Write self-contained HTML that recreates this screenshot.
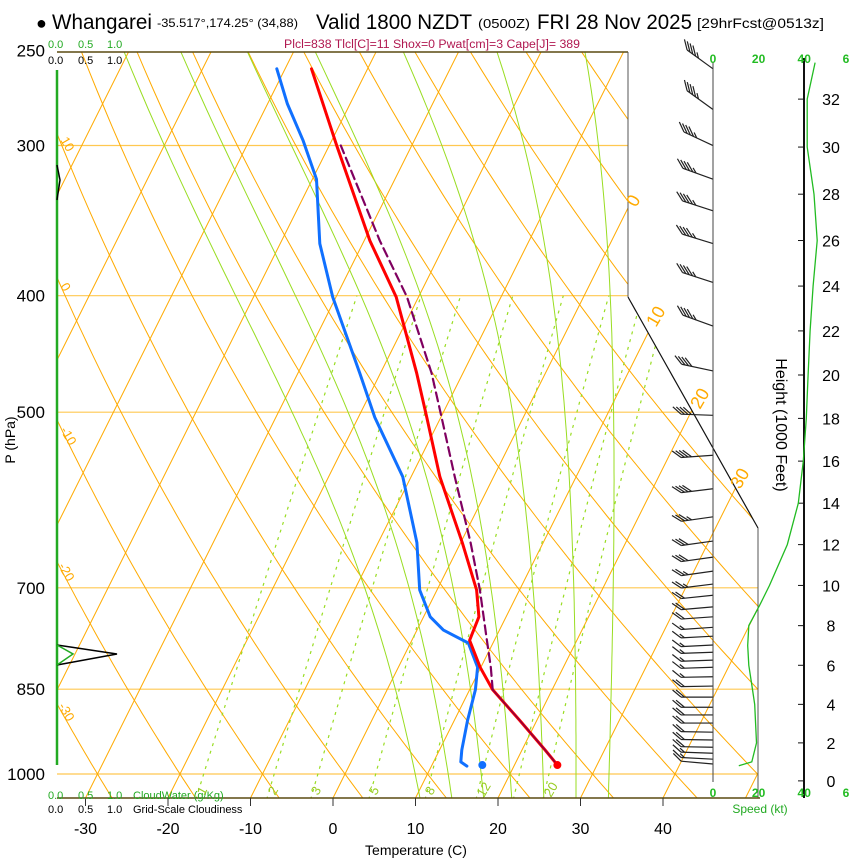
<!DOCTYPE html>
<html><head><meta charset="utf-8"><title>Skew-T Whangarei</title>
<style>
html,body{margin:0;padding:0;background:#fff;}
svg{display:block;font-family:"Liberation Sans",sans-serif;}
</style></head>
<body>
<svg id="chart" xmlns="http://www.w3.org/2000/svg" width="850" height="860" viewBox="0 0 850 860">
<defs>
<clipPath id="plotclip"><polygon points="57,52 628,52 628,297 758,528 758,798 57,798"/></clipPath>
</defs>
<rect x="0" y="0" width="850" height="860" fill="#fff"/>
<g id="grid" clip-path="url(#plotclip)"></g>
<g id="series"></g>
<g id="frame">
  <line x1="57" y1="52" x2="628" y2="52" stroke="#5a4a10" stroke-width="1.5"/>
  <line x1="628" y1="52" x2="628" y2="297" stroke="#555" stroke-width="1"/>
  <line x1="628" y1="297" x2="758" y2="528" stroke="#111" stroke-width="1.2"/>
  <line x1="758" y1="528" x2="758" y2="798" stroke="#555" stroke-width="1"/>
  <line x1="57" y1="798" x2="760" y2="798" stroke="#5a4a10" stroke-width="1.5"/>
</g>
<g id="axes"></g>
<g id="winds"></g>
<g id="speedpanel"></g>
<g id="cloudpanel">
  <line x1="57" y1="70" x2="57" y2="765" stroke="#22aa22" stroke-width="2.5"/>
  <path d="M57,165 L60,180 L57,200" fill="none" stroke="#000" stroke-width="1.5"/>
  <path d="M57,645 L117,654 L57,665" fill="none" stroke="#000" stroke-width="1.5"/>
  <path d="M57,645 L73,654 L57,665" fill="none" stroke="#22aa22" stroke-width="1.5"/>
</g>
<g id="texts">
  <text x="36" y="29" font-size="18">●</text>
  <text x="52" y="29" font-size="21" textLength="100" lengthAdjust="spacingAndGlyphs">Whangarei</text>
  <text x="157" y="27" font-size="12" textLength="141" lengthAdjust="spacingAndGlyphs">-35.517°,174.25° (34,88)</text>
  <text x="316" y="29" font-size="21" textLength="156" lengthAdjust="spacingAndGlyphs">Valid 1800 NZDT</text>
  <text x="478" y="28" font-size="13" textLength="52" lengthAdjust="spacingAndGlyphs">(0500Z)</text>
  <text x="537" y="29" font-size="21" textLength="155" lengthAdjust="spacingAndGlyphs">FRI 28 Nov 2025</text>
  <text x="697" y="28" font-size="14" textLength="127" lengthAdjust="spacingAndGlyphs">[29hrFcst@0513z]</text>
  <text x="284" y="48" font-size="11.5" fill="#b01850" textLength="296" lengthAdjust="spacingAndGlyphs">Plcl=838 Tlcl[C]=11 Shox=0 Pwat[cm]=3 Cape[J]= 389</text>
  <g font-size="11" fill="#22aa22"><text x="48" y="48">0.0</text><text x="78" y="48">0.5</text><text x="107" y="48">1.0</text></g>
  <g font-size="11" fill="#000"><text x="48" y="64">0.0</text><text x="78" y="64">0.5</text><text x="107" y="64">1.0</text></g>
  <g font-size="11" fill="#22aa22"><text x="48" y="799">0.0</text><text x="78" y="799">0.5</text><text x="107" y="799">1.0</text><text x="133" y="799">CloudWater (g/Kg)</text></g>
  <g font-size="11" fill="#000"><text x="48" y="813">0.0</text><text x="78" y="813">0.5</text><text x="107" y="813">1.0</text><text x="133" y="813">Grid-Scale Cloudiness</text></g>
  <text x="416" y="855" font-size="14" text-anchor="middle">Temperature (C)</text>
  <text transform="translate(15,440) rotate(-90)" font-size="14" text-anchor="middle">P (hPa)</text>
  <text transform="translate(776,425) rotate(90)" font-size="16" text-anchor="middle">Height (1000 Feet)</text>
  <text x="760" y="813" font-size="12" fill="#22aa22" text-anchor="middle">Speed (kt)</text>
  <g font-size="18" fill="#ffaa00">
    <text transform="translate(636,208) rotate(-60)">0</text>
    <text transform="translate(656,328) rotate(-60)">10</text>
    <text transform="translate(700,410) rotate(-60)">20</text>
    <text transform="translate(740,490) rotate(-60)">30</text>
  </g>
  <g font-size="13" fill="#ffaa00">
    <text transform="translate(60,140) rotate(60)">10</text>
    <text transform="translate(60,286) rotate(60)">0</text>
    <text transform="translate(60,430) rotate(60)">-10</text>
    <text transform="translate(58,566) rotate(60)">-20</text>
    <text transform="translate(58,706) rotate(60)">-30</text>
  </g>
  <g font-size="13" fill="#99cc22">
    <text transform="translate(204,796) rotate(-60)">1</text>
    <text transform="translate(275,796) rotate(-60)">2</text>
    <text transform="translate(318,796) rotate(-60)">3</text>
    <text transform="translate(376,796) rotate(-60)">5</text>
    <text transform="translate(432,796) rotate(-60)">8</text>
    <text transform="translate(484,798) rotate(-60)">12</text>
    <text transform="translate(551,798) rotate(-60)">20</text>
  </g>
</g>
</svg>
<script>
// ---- chart data ----
const pressureTicks = [250, 300, 400, 500, 700, 850, 1000];
const tempTicks = [-30, -20, -10, 0, 10, 20, 30, 40];
const tempP = [259, 300, 360, 401, 464, 505, 566, 642, 703, 740, 774, 815, 851, 902, 955, 983];
const tempC = [-46.8, -39.1, -29.3, -22.7, -15.6, -11.7, -6.5, 0.2, 4.8, 6.7, 7.0, 9.9, 12.8, 17.9, 22.8, 25.2];
const dewP = [259, 277, 297, 320, 362, 401, 464, 505, 566, 642, 703, 740, 759, 778, 815, 851, 902, 955, 977, 985];
const dewC = [-51, -47.6, -43.5, -39.5, -35.2, -30.4, -22.5, -18, -11, -5.3, -2.1, 0.8, 3.2, 7.0, 9.6, 10.7, 11.6, 12.7, 13.3, 14.3];
const parcelP = [983, 955, 902, 851, 815, 774, 703, 642, 566, 505, 464, 401, 360, 300];
const parcelC = [25.2, 22.8, 17.9, 12.8, 11.2, 9.1, 5.2, 1.2, -4.7, -9.9, -13.8, -21.4, -28.1, -38.6];
const surfaceTemp = 25.2;
const surfaceDew = 16.1;
const surfaceP = 983;
const windP = [259, 280, 300, 320, 340, 362, 390, 424, 462, 503, 543, 579, 611, 640, 660, 678, 695, 710, 726, 740, 755, 768, 781, 792, 804, 815, 830, 845, 863, 880, 893, 907, 923, 937, 950, 961, 972, 981];
const windDir = [306, 306, 295, 290, 288, 287, 288, 290, 282, 272, 266, 263, 262, 262, 262, 262, 263, 264, 265, 266, 266, 267, 267, 268, 268, 268, 269, 269, 270, 270, 270, 270, 271, 271, 271, 272, 273, 275];
const windSpd = [45, 45, 45, 45, 45, 45, 45, 45, 42, 42, 40, 38, 35, 32, 30, 27, 24, 21, 20, 18, 17, 16, 16, 15, 15, 16, 17, 18, 19, 19, 19, 19, 19, 18, 18, 17, 15, 12];
const speedHeights = [0.8, 1, 2, 3, 4, 5, 6, 7, 8, 9, 10, 12, 14, 16, 18, 20, 22, 24, 26, 28, 30, 32, 33.5];
const speedKt = [11.3, 17, 19.1, 18.7, 18.3, 17, 15.7, 15.2, 15.7, 20.4, 24.8, 32.6, 37.4, 39.6, 40.9, 41.7, 42.6, 43.9, 45.7, 44.3, 41.3, 41.3, 44.8];
const heightTicks = [0, 2, 4, 6, 8, 10, 12, 14, 16, 18, 20, 22, 24, 26, 28, 30, 32];
const speedTicks = [0, 20, 40];
const isotherms = [];
for (let t = -140; t <= 50; t += 10) isotherms.push(t);
const dryAdiabats = [];
for (let th = -40; th <= 200; th += 10) dryAdiabats.push(th);
const moistStarts = [8.5, 12.5, 16.5, 20, 24, 28, 32];
const mixRatios = [1, 2, 3, 5, 8, 12, 16, 20];
const isobarLines = [300, 400, 500, 700, 850, 1000];

// ---- axis functions ----
const NS = 'http://www.w3.org/2000/svg';
const Y0 = 774, PPX = 522, XB = 798;
function yP(p) { return Y0 - PPX * Math.log(1000 / p); }
function xT(t, p) { return 333 + 8.25 * t + 0.5 * (XB - yP(p)); }
function yH(kft) { const h = kft * 304.8; const p = 1013.25 * Math.pow(1 - 0.0065 * h / 288.15, 5.256); return yP(p); }
function xS(kt) { return 713 + 2.28 * kt; }
function mk(tag, attrs, parent) {
  const e = document.createElementNS(NS, tag);
  for (const k in attrs) e.setAttribute(k, attrs[k]);
  parent.appendChild(e); return e;
}
function pts(arr) { return arr.map(a => a[0].toFixed(1) + ',' + a[1].toFixed(1)).join(' '); }

const grid = document.getElementById('grid');
const series = document.getElementById('series');
const axes = document.getElementById('axes');
const winds = document.getElementById('winds');
const sp = document.getElementById('speedpanel');

isobarLines.forEach(p => {
  const l = mk('line', {x1: 57, x2: 760, y1: yP(p), y2: yP(p), stroke: '#ffc850', 'stroke-width': 1.2}, grid);
  
  
});
isotherms.forEach(t => {
  const l = mk('line', {x1: xT(t, 1060), y1: yP(1060), x2: xT(t, 240), y2: yP(240), stroke: '#ffaa00', 'stroke-width': 1}, grid);
  
  
});
dryAdiabats.forEach(th => {
  const a = [];
  for (let p = 1060; p >= 240; p -= 10) a.push([xT((th + 273.15) * Math.pow(p / 1000, 0.2857) - 273.15, p), yP(p)]);
  const l = mk('polyline', {points: pts(a), fill: 'none', stroke: '#ffaa00', 'stroke-width': 1}, grid);
  
  
});
function es(t) { return 6.112 * Math.exp(17.67 * t / (t + 243.5)); }
function dTdp(t, p) {
  const Tk = t + 273.15, e = es(t), rs = 0.622 * e / (p - e), Lv = 2.5e6, Rd = 287, cp = 1005;
  return (Rd * Tk + Lv * rs) / (p * (cp + Lv * Lv * rs * 0.622 / (Rd * Tk * Tk)));
}
moistStarts.forEach(t0 => {
  let t = t0;
  for (let p = 1000; p < 1060; p += 2) t += dTdp(t, p) * 2;
  const a = [];
  for (let p = 1060; p >= 240; p -= 2) { if (p % 10 === 0) a.push([xT(t, p), yP(p)]); t -= dTdp(t, p) * 2; }
  const l = mk('polyline', {points: pts(a), fill: 'none', stroke: '#99dd22', 'stroke-width': 1}, grid);
  
  
});
mixRatios.forEach(w => {
  const a = [];
  for (let p = 1050; p >= 400; p -= 10) {
    const e = w * p / (622 + w), L = Math.log(e / 6.112);
    a.push([xT(243.5 * L / (17.67 - L), p), yP(p)]);
  }
  const l = mk('polyline', {points: pts(a), fill: 'none', stroke: '#99dd22', 'stroke-width': 1.2, 'stroke-dasharray': '3,5'}, grid);
  
  
});

function line(P, T, attrs) {
  const a = P.map((p, i) => [xT(T[i], p), yP(p)]);
  return mk('polyline', Object.assign({points: pts(a), fill: 'none', 'stroke-linejoin': 'round', 'stroke-linecap': 'round'}, attrs), series);
}
const dl = line(dewP, dewC, {stroke: '#1070ff', 'stroke-width': 3});


const tl = line(tempP, tempC, {stroke: '#ff0000', 'stroke-width': 3});


const pl = line(parcelP.slice(3), parcelC.slice(3), {stroke: '#800060', 'stroke-width': 2.2, 'stroke-dasharray': '9,5'});


const pl2 = line(parcelP.slice(0, 4), parcelC.slice(0, 4), {stroke: '#8a0040', 'stroke-width': 1.4});


const td = mk('circle', {cx: xT(surfaceTemp, surfaceP), cy: yP(surfaceP), r: 4, fill: '#ff0000'}, series);


const dd = mk('circle', {cx: xT(surfaceDew, surfaceP), cy: yP(surfaceP), r: 4, fill: '#1070ff'}, series);



pressureTicks.forEach(p => {
  const t = mk('text', {x: 45, y: yP(p) + 6, 'font-size': 17, 'text-anchor': 'end'}, axes);
  t.textContent = p;
  
  
});
tempTicks.forEach(v => {
  const x = 333 + 8.25 * v;
  const tk = mk('line', {x1: x, x2: x, y1: 798, y2: 806, stroke: '#333', 'stroke-width': 1}, axes);
  
  
  const t = mk('text', {x: x, y: 834, 'font-size': 16, 'text-anchor': 'middle'}, axes);
  t.textContent = v;
  
  
});

windP.forEach((p, i) => {
  const y = yP(p), x0 = 713, L = 32;
  const d = windDir[i] * Math.PI / 180;
  const ux = Math.sin(d), uy = -Math.cos(d);
  const ex = x0 + ux * L, ey = y + uy * L;
  const g = mk('g', {stroke: '#222', 'stroke-width': 1.2, fill: 'none'}, winds);
  
  
  mk('line', {x1: x0, y1: y, x2: ex, y2: ey}, g);
  const ang = Math.atan2(uy, ux) + 40 * Math.PI / 180;
  const fx = Math.cos(ang), fy = Math.sin(ang);
  let s = Math.round(windSpd[i] / 5) * 5, k = 0;
  while (s >= 10) {
    const bx = ex - ux * k * 3.5, by = ey - uy * k * 3.5;
    mk('line', {x1: bx, y1: by, x2: bx + fx * 11, y2: by + fy * 11}, g);
    s -= 10; k++;
  }
  if (s >= 5) {
    const bx = ex - ux * k * 3.5, by = ey - uy * k * 3.5;
    mk('line', {x1: bx, y1: by, x2: bx + fx * 6, y2: by + fy * 6}, g);
  }
});

const z = mk('line', {x1: 713, x2: 713, y1: 62, y2: 782, stroke: '#444', 'stroke-width': 1}, sp);


const ha = mk('line', {x1: 804, x2: 804, y1: 58, y2: 798, stroke: '#111', 'stroke-width': 2}, sp);


heightTicks.forEach(h => {
  const y = yH(h);
  const tk = mk('line', {x1: 798, x2: 804, y1: y, y2: y, stroke: '#111', 'stroke-width': 1}, sp);
  
  
  const t = mk('text', {x: 831, y: y + 6, 'font-size': 16, 'text-anchor': 'middle'}, sp);
  t.textContent = h;
  
  
});
[63, 797].forEach(yy => {
  speedTicks.forEach(v => {
    const t = mk('text', {x: xS(v), y: yy, 'font-size': 12, 'font-weight': 'bold', fill: '#22bb22', 'text-anchor': 'middle'}, sp);
    t.textContent = v;
    
    
  });
  const t6 = mk('text', {x: 846, y: yy, 'font-size': 12, 'font-weight': 'bold', fill: '#22bb22', 'text-anchor': 'middle'}, sp);
  t6.textContent = '6';
  
  
});
const sa = speedHeights.map((h, i) => [xS(speedKt[i]), yH(h)]);
const sl = mk('polyline', {points: pts(sa), fill: 'none', stroke: '#22bb22', 'stroke-width': 1.3}, sp);


</script>
</body></html>
